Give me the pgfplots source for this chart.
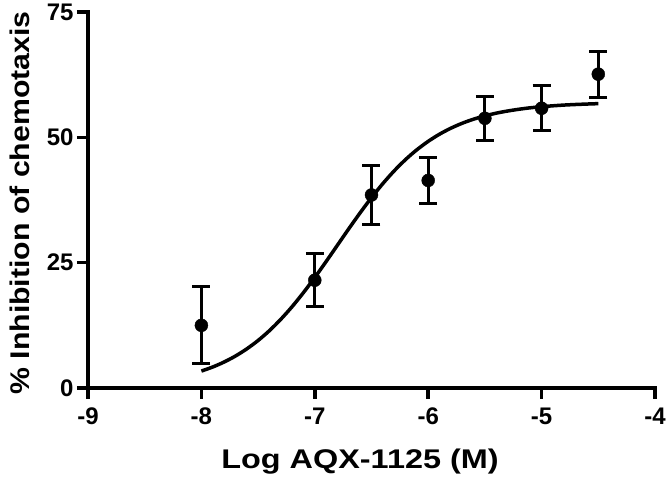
\documentclass[border=0pt]{standalone}
\usepackage{fontspec}
\setmainfont{Liberation Sans}
\newfontfamily\labelfont[FakeStretch=1.2]{Liberation Sans}
\newfontfamily\ylabelfont[FakeStretch=1.12]{Liberation Sans}
\usepackage{pgfplots}
\pgfplotsset{compat=1.18}
\begin{document}
\begin{tikzpicture}[x=1pt,y=1pt]
\useasboundingbox (0,0) rectangle (670,482);
\begin{axis}[
  at={(88pt,94pt)}, anchor=south west,
  scale only axis, width=567pt, height=376pt,
  xmin=-9, xmax=-4, ymin=0, ymax=75,
  axis lines=left, axis line style={-, line width=4.5pt, line cap=rect},
  xtick={-9,-8,-7,-6,-5,-4}, ytick={0,25,50,75},
  tick align=outside, major tick length=11pt,
  tick style={line width=3.5pt, black},
  tick label style={font=\fontsize{24}{24}\selectfont\bfseries},
  xticklabel style={yshift=-5pt},
  /pgf/number format/assume math mode=true,
  clip=false,
]
% fitted curve
\addplot[black, line width=3.5pt, smooth] coordinates {
  (-8.0,3.38)(-7.9,4.19)(-7.8,5.18)(-7.7,6.37)(-7.6,7.80)(-7.5,9.48)
  (-7.4,11.44)(-7.3,13.70)(-7.2,16.23)(-7.1,19.03)(-7.0,22.05)(-6.9,25.23)
  (-6.8,28.50)(-6.7,31.77)(-6.6,34.95)(-6.5,37.97)(-6.4,40.77)(-6.3,43.31)
  (-6.2,45.56)(-6.1,47.52)(-6.0,49.20)(-5.9,50.63)(-5.8,51.82)(-5.7,52.81)
  (-5.6,53.62)(-5.5,54.28)(-5.4,54.82)(-5.3,55.25)(-5.2,55.60)(-5.1,55.89)
  (-5.0,56.11)(-4.9,56.29)(-4.8,56.44)(-4.7,56.55)(-4.6,56.64)(-4.5,56.72)
};
% mean +/- error
\addplot[black, only marks, mark=*, mark size=6.5pt,
  error bars/.cd, y dir=both, y explicit,
  error bar style={line width=3pt},
  error mark options={rotate=90, line width=3pt, mark size=9pt}]
  table[x=x, y=y, y error=e] {
x     y     e
-8    12.5  7.7
-7    21.5  5.3
-6.5  38.5  5.8
-6    41.4  4.6
-5.5  53.8  4.4
-5    55.8  4.5
-4.5  62.6  4.6
};
\end{axis}
\node[font=\labelfont\fontsize{27}{27}\selectfont\bfseries] at (360,20) {Log AQX-1125 (M)};
\node[font=\ylabelfont\fontsize{27}{27}\selectfont\bfseries, rotate=90] at (20,279) {\% Inhibition of chemotaxis};
\end{tikzpicture}
\end{document}
